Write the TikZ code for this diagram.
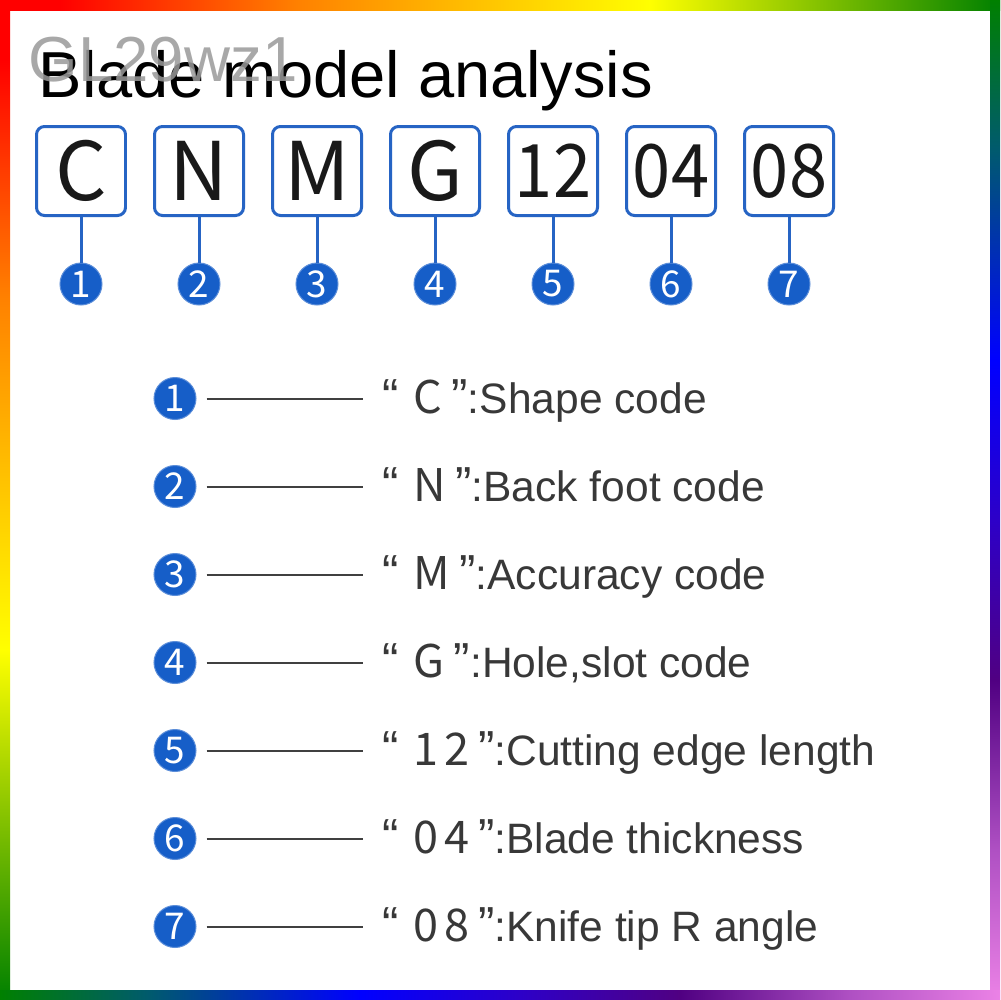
\documentclass[tikz,border=0pt]{standalone}
\usepackage{fontspec}
\setmainfont{Liberation Sans}
\newfontfamily\cjk{Noto Sans CJK SC}
\newfontfamily\cjknarrow[FakeStretch=0.93]{Noto Sans CJK SC}
\newfontfamily\cjkwide[LetterSpace=12]{Noto Sans CJK SC}
\usetikzlibrary{calc}
\definecolor{boxblue}{RGB}{38,100,196}
\definecolor{dotblue}{RGB}{22,94,200}
\definecolor{wred}{RGB}{255,0,0}
\definecolor{worange}{RGB}{255,130,0}
\definecolor{wyellow}{RGB}{255,255,0}
\definecolor{wgreen}{RGB}{0,128,0}
\definecolor{cteal}{RGB}{0,90,110}
\definecolor{cblue}{RGB}{0,0,255}
\definecolor{cviolet}{RGB}{45,0,200}
\definecolor{cpurple}{RGB}{80,0,130}
\definecolor{corchid}{RGB}{175,80,195}
\definecolor{cpink}{RGB}{235,130,230}
\pgfdeclarehorizontalshading{warmh}{100bp}{color(0bp)=(wred); color(28bp)=(wred); color(40bp)=(worange); color(57.5bp)=(wyellow); color(75bp)=(wgreen); color(100bp)=(wgreen)}
\pgfdeclareverticalshading{warmv}{100bp}{color(0bp)=(wgreen); color(25bp)=(wgreen); color(42.5bp)=(wyellow); color(60bp)=(worange); color(72bp)=(wred); color(100bp)=(wred)}
\pgfdeclarehorizontalshading{coolh}{100bp}{color(0bp)=(wgreen); color(25bp)=(wgreen); color(32.5bp)=(cteal); color(43bp)=(cblue); color(51bp)=(cviolet); color(59bp)=(cpurple); color(67.5bp)=(corchid); color(75bp)=(cpink); color(100bp)=(cpink)}
\pgfdeclareverticalshading{coolv}{100bp}{color(0bp)=(cpink); color(25bp)=(cpink); color(32.5bp)=(corchid); color(41bp)=(cpurple); color(49bp)=(cviolet); color(57bp)=(cblue); color(67.5bp)=(cteal); color(75bp)=(wgreen); color(100bp)=(wgreen)}
\tikzset{
  codebox/.style={draw=boxblue, line width=0.3mm, rounded corners=0.8mm,
    minimum size=8.9mm, inner sep=0pt, text=black!90},
  stem/.style={draw=boxblue, line width=0.3mm},
  dot/.style={circle, fill=dotblue, draw=dotblue!70, line width=0.1mm,
    minimum size=4.2mm, inner sep=0pt, text=white, font=\cjk\fontsize{10.5}{10.5}\selectfont},
  lead/.style={draw=black!75, line width=0.2mm, shorten <=1mm},
  desc/.style={anchor=base west, inner sep=0pt, text=black!78,
    font=\fontsize{12.1}{14}\selectfont}
}
\newcommand\quotedcode[1]{{\fontsize{14}{14}\selectfont“\hspace{0.3em}{\cjkwide\fontsize{12.8}{14}\selectfont#1}\hspace{0.18em}”}}

\begin{document}
\begin{tikzpicture}[x=0.1mm, y=-0.1mm]
    \useasboundingbox (0,0) rectangle (1000,1000);
    \fill[white] (0,0) rectangle (1000,1000);
    % rainbow frame
    \shade[shading=warmh] (0,0) rectangle (1000,10);
    \shade[shading=warmv] (0,0) rectangle (10,1000);
    \shade[shading=coolv] (990,0) rectangle (1000,1000);
    \shade[shading=coolh] (0,990) rectangle (1000,1000);
    % title
    \node[anchor=base west, inner sep=0pt, font=\fontsize{18.5}{20}\selectfont]
        (title) at (38,97) {Blade model analysis};
    \node[anchor=base west, inner sep=0pt, text=black!40, opacity=0.85,
        font=\fontsize{18.1}{20}\selectfont] (mark) at (28,81) {GL29wz1};
    % code boxes and numbers
    \foreach \code [count=\i] in {C, N, M, G, 12, 04, 08} {
        \node[codebox, font=\ifnum\i>4 \cjknarrow\fontsize{21}{21}\else\cjk\fontsize{23}{23}\fi\selectfont]
            (b\i) at ({81+118*(\i-1)},171) {\code};
        \node[dot] (c\i) at ({81+118*(\i-1)},284) {\i};
        \draw[stem] (b\i.south) -- (c\i.north);
    }
    % legend
    \foreach \code/\txt [count=\i] in {C/Shape code, N/Back foot code,
            M/Accuracy code, G/{Hole,slot code}, 12/Cutting edge length,
            04/Blade thickness, 08/Knife tip R angle} {
        \pgfmathsetmacro\ry{398.5+88*(\i-1)}
        \node[dot] (n\i) at (175,\ry) {\i};
        \node[desc] (d\i) at (363,\ry+15)
            {\hspace{0.45em}\quotedcode{\code}:\txt};
        \draw[lead] (n\i.east) -- (n\i -| d\i.west);
    }
\end{tikzpicture}
\end{document}
